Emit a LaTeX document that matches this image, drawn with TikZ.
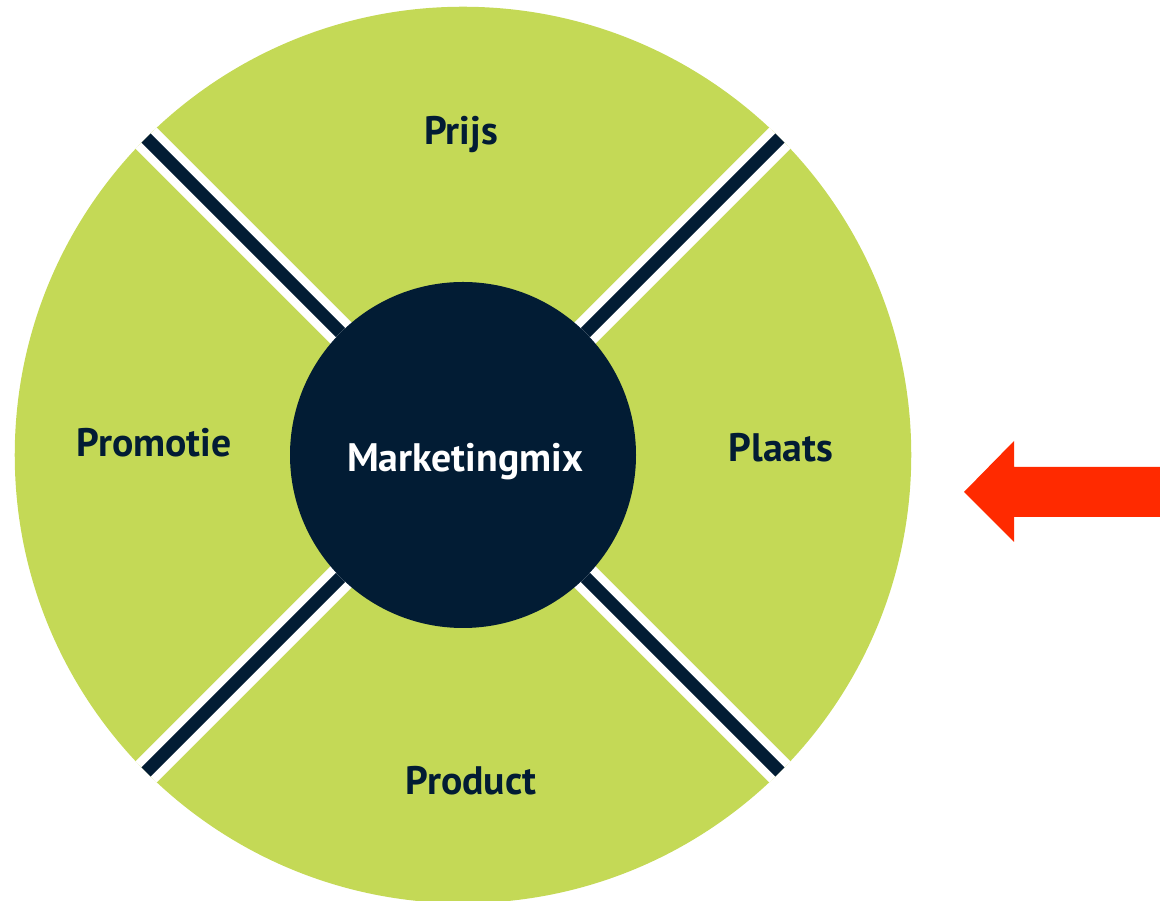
\documentclass[tikz,border=0pt]{standalone}
\usepackage{fontspec}
\setmainfont{PT Sans}
\usetikzlibrary{positioning}
\definecolor{lime}{RGB}{196,217,86}
\definecolor{navy}{RGB}{2,28,52}
\definecolor{arrowred}{RGB}{255,42,0}
\tikzset{
  label text/.style={font=\bfseries\fontsize{11.3}{13}\selectfont,text=navy,anchor=base,inner sep=0pt},
  gap/.style={draw=white,line width=0.30cm,line cap=butt},
  bar/.style={draw=navy,line width=0.13cm,line cap=butt}
}
\begin{document}
\begin{tikzpicture}[x=0.01cm,y=-0.01cm]
  \useasboundingbox (0,0) rectangle (1160,901);
  \node[circle,fill=lime,inner sep=0pt,outer sep=0pt,minimum size=8.96cm] (wheel) at (463,455) {};
  \node[circle,inner sep=0pt,outer sep=0pt,minimum size=3.46cm] (hub) at (463,455) {};
  \foreach \a in {45,135,225,315}{
    \draw[gap] (hub.center) -- (wheel.\a);
    \draw[bar] (hub.\a) -- (wheel.\a);
  }
  \fill[navy] (hub.center) circle[radius=173];
  %%% labels
  \node[label text] (prijs) at (461,145) {Prijs};
  \node[label text] (promotie) at (154,457) {Promotie};
  \node[label text] (plaats) at (781,462) {Plaats};
  \node[label text] (product) at (471,795) {Product};
  \node[label text,text=white] (mix) at (465,472) {Marketingmix};
  %%% pointer
  \coordinate (tip) at (964,492);
  \fill[arrowred] (tip) -- ++(50,-51) -- ++(0,26) -- (1160,467) -- (1160,517)
    -- (1014,517) -- ++(0,25) -- cycle;
\end{tikzpicture}
\end{document}
